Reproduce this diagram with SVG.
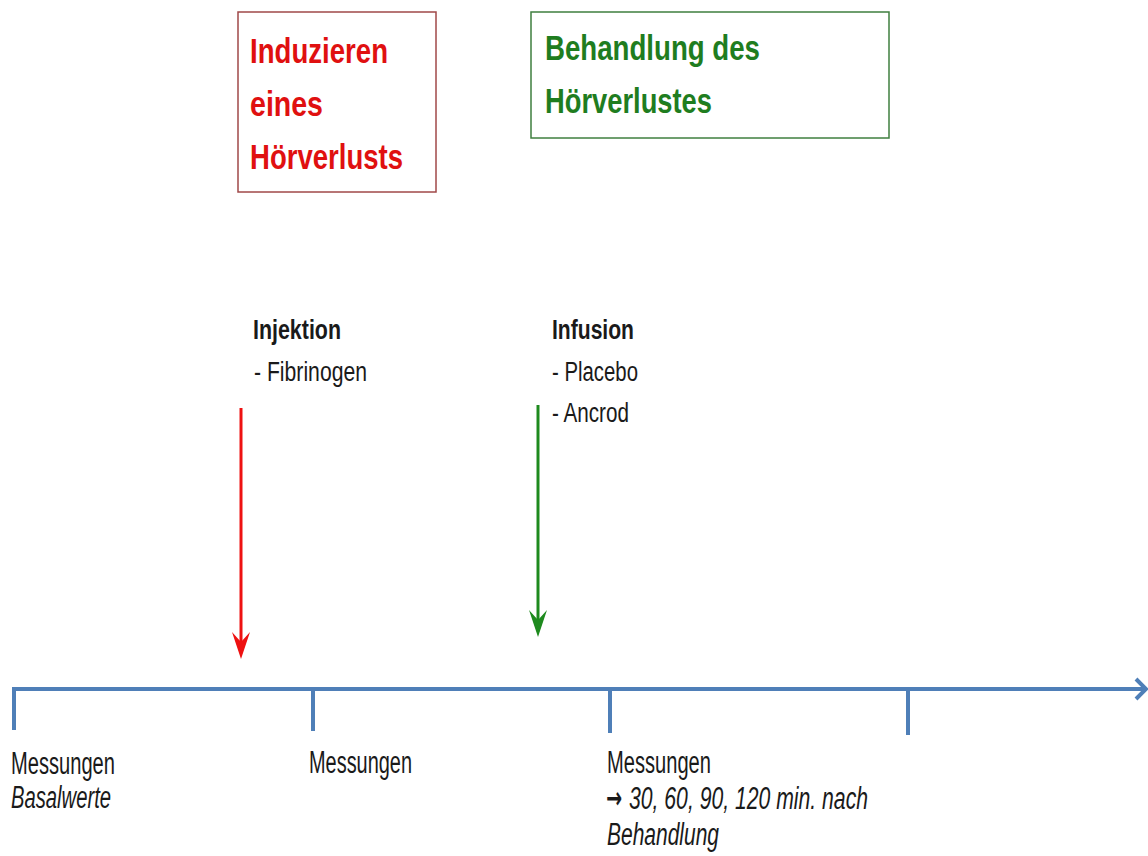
<svg xmlns="http://www.w3.org/2000/svg" width="1148" height="856" viewBox="0 0 1148 856">
<defs>
<style>
text{font-family:"Liberation Sans",Arial,sans-serif;}
.hr{fill:#e01010;font-weight:bold;font-size:35px;}
.hg{fill:#1f7d1f;font-weight:bold;font-size:35px;}
.lb{fill:#1a1a1a;font-weight:bold;font-size:27px;}
.lr{fill:#1a1a1a;font-size:27px;}
.m{fill:#1a1a1a;font-size:31px;}
.mi{fill:#1a1a1a;font-size:31px;font-style:italic;}
.ar{fill:#1a1a1a;font-family:"DejaVu Sans",sans-serif;font-size:30px;font-weight:bold;}
.tl{stroke:#4f7fb8;stroke-width:4;fill:none;stroke-linecap:butt;}
</style>
</defs>
<rect width="1148" height="856" fill="#ffffff"/>

<g id="box-induce">
<rect x="238" y="12" width="198" height="180" fill="none" stroke="#a04848" stroke-width="1.5"/>
<text class="hr" x="250" y="63" textLength="138" lengthAdjust="spacingAndGlyphs">Induzieren</text>
<text class="hr" x="250" y="116" textLength="73" lengthAdjust="spacingAndGlyphs">eines</text>
<text class="hr" x="250" y="169" textLength="153" lengthAdjust="spacingAndGlyphs">Hörverlusts</text>
</g>

<g id="box-treat">
<rect x="531" y="12" width="358" height="126" fill="none" stroke="#3f7f3f" stroke-width="1.5"/>
<text class="hg" x="545" y="60" textLength="215" lengthAdjust="spacingAndGlyphs">Behandlung des</text>
<text class="hg" x="545" y="113" textLength="167" lengthAdjust="spacingAndGlyphs">Hörverlustes</text>
</g>

<g id="injektion">
<text class="lb" x="253" y="339" textLength="88" lengthAdjust="spacingAndGlyphs">Injektion</text>
<text class="lr" x="254" y="381" textLength="113" lengthAdjust="spacingAndGlyphs">- Fibrinogen</text>
</g>

<g id="infusion">
<text class="lb" x="552" y="339" textLength="82" lengthAdjust="spacingAndGlyphs">Infusion</text>
<text class="lr" x="552" y="381" textLength="86" lengthAdjust="spacingAndGlyphs">- Placebo</text>
<text class="lr" x="552" y="422" textLength="77" lengthAdjust="spacingAndGlyphs">- Ancrod</text>
</g>

<g id="m1">
<text class="m" x="11" y="774" textLength="104" lengthAdjust="spacingAndGlyphs">Messungen</text>
<text class="mi" x="11" y="808" textLength="100" lengthAdjust="spacingAndGlyphs">Basalwerte</text>
</g>
<g id="m2">
<text class="m" x="309" y="773" textLength="103" lengthAdjust="spacingAndGlyphs">Messungen</text>
</g>
<g id="m3">
<text class="m" x="607" y="773" textLength="104" lengthAdjust="spacingAndGlyphs">Messungen</text>
<text class="ar" x="606" y="808" textLength="16" lengthAdjust="spacingAndGlyphs">→</text>
<text class="mi" x="629" y="809" textLength="239" lengthAdjust="spacingAndGlyphs">30, 60, 90, 120 min. nach</text>
<text class="mi" x="607" y="845" textLength="112" lengthAdjust="spacingAndGlyphs">Behandlung</text>
</g>

<g id="connectors">
<line class="tl" x1="12" y1="689" x2="1144" y2="689"/>
<path d="M1136,679 L1146,689 L1136,699" fill="none" stroke="#4f7fb8" stroke-width="4" stroke-linejoin="miter"/>
<line class="tl" x1="14" y1="687" x2="14" y2="730"/>
<line class="tl" x1="313" y1="689" x2="313" y2="731"/>
<line class="tl" x1="610" y1="689" x2="610" y2="733"/>
<line class="tl" x1="908" y1="689" x2="908" y2="735"/>
<line x1="241" y1="408" x2="241" y2="650" stroke="#ee1111" stroke-width="3"/>
<path d="M232,632 L241,659 L250,632 L241,642 Z" fill="#ee1111"/>
<line x1="538" y1="405" x2="538" y2="628" stroke="#1e8a1e" stroke-width="3"/>
<path d="M529,610 L538,637 L547,610 L538,620 Z" fill="#1e8a1e"/>
</g>
</svg>
